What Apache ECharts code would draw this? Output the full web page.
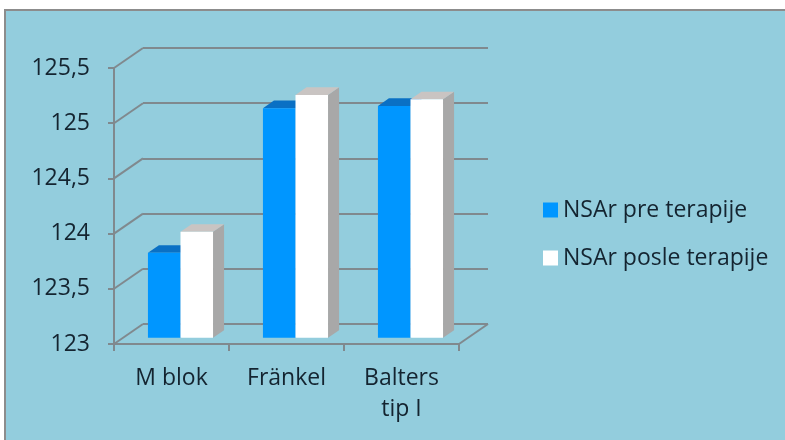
<!DOCTYPE html>
<html>
<head>
<meta charset="utf-8">
<script src="https://cdn.jsdelivr.net/npm/echarts@6/dist/echarts.min.js"></script>
<style>
html,body{margin:0;padding:0;background:#fff;}
#chart{width:785px;height:440px;}
</style>
</head>
<body>
<div id="chart"></div>
<script>
const categories = ['M blok', 'Fränkel', 'Balters\ntip I'];
const seriesNames = ['NSAr pre terapije', 'NSAr posle terapije'];
const preValues = [123.77, 125.08, 125.1];
const postValues = [123.96, 125.2, 125.16];
const yTicks = [123, 123.5, 124, 124.5, 125, 125.5];

const FONT = '"Open Sans", Lato, sans-serif';
const FS = 23;
const TEXT = '#142430';
const GRID = '#80898e';
const DEPTH = [29, -20];      // wall depth vector
const FRONT = 0.31, BARD = 0.38;

const chart = echarts.init(document.getElementById('chart'));

const faces = [
  {front: '#0096ff', top: '#0a70c4', side: '#0a70c4'},
  {front: '#ffffff', top: '#c9c4c2', side: '#a8a8a8'}
];

function barRender(sIdx) {
  return function (params, api) {
    const cat = api.value(0), val = api.value(1);
    const base = api.coord([cat, yTicks[0]]);
    const top = api.coord([cat, val]);
    const band = api.size([1, 0])[0];
    const bw = band * 0.283;
    const fx = DEPTH[0] * FRONT, fy = DEPTH[1] * FRONT;
    const dx = DEPTH[0] * BARD, dy = DEPTH[1] * BARD;
    const x0 = base[0] - bw + sIdx * bw + fx;
    const x1 = x0 + bw;
    const yb = base[1] + fy, yt = top[1] + fy;
    const c = faces[sIdx];
    return {
      type: 'group',
      children: [
        {type: 'polygon', shape: {points: [[x1, yt], [x1 + dx, yt + dy], [x1 + dx, yb + dy], [x1, yb]]}, style: {fill: c.side}},
        {type: 'polygon', shape: {points: [[x0, yt], [x1, yt], [x1 + dx, yt + dy], [x0 + dx, yt + dy]]}, style: {fill: c.top}},
        {type: 'rect', shape: {x: x0, y: yt, width: bw, height: yb - yt}, style: {fill: c.front}}
      ]
    };
  };
}

function wallRender(params, api) {
  const v = api.value(0);
  const cs = params.coordSys;
  const p = api.coord([0, v]);
  const children = [{
    type: 'line',
    shape: {x1: cs.x, y1: p[1], x2: cs.x + DEPTH[0], y2: p[1] + DEPTH[1]},
    style: {stroke: GRID, lineWidth: 2}
  }];
  if (v === yTicks[0]) {
    children.push({
      type: 'line',
      shape: {x1: cs.x + cs.width, y1: p[1], x2: cs.x + cs.width + DEPTH[0], y2: p[1] + DEPTH[1]},
      style: {stroke: GRID, lineWidth: 2}
    });
  }
  return {type: 'group', children: children};
}

const option = {
  backgroundColor: '#ffffff',
  animation: false,
  graphic: [{
    type: 'rect', z: -10, silent: true,
    shape: {x: 5, y: 10, width: 800, height: 450},
    style: {fill: '#93cddd', stroke: '#8c8c8c', lineWidth: 2}
  }],
  legend: {
    orient: 'vertical',
    left: 538, top: 192,
    itemWidth: 15, itemHeight: 15, itemGap: 22,
    icon: 'rect',
    data: seriesNames,
    textStyle: {fontFamily: FONT, fontSize: FS, color: TEXT, lineHeight: 26}
  },
  grid: [
    {left: 114, right: 326, top: 68, bottom: 96},
    {left: 143, right: 297, top: 48, bottom: 116}
  ],
  xAxis: [
    {
      type: 'category', gridIndex: 0, data: categories,
      axisLine: {lineStyle: {color: GRID, width: 2}},
      axisTick: {show: true, length: 7, lineStyle: {color: GRID, width: 2}},
      axisLabel: {interval: 0, fontFamily: FONT, fontSize: FS, color: TEXT, lineHeight: 31, margin: 19}
    },
    {
      type: 'category', gridIndex: 1, data: categories, show: false
    }
  ],
  yAxis: [
    {
      type: 'value', gridIndex: 0, min: 123, max: 125.5, interval: 0.5,
      axisLine: {show: true, lineStyle: {color: GRID, width: 2}},
      axisTick: {show: true, length: 6, lineStyle: {color: GRID, width: 2}},
      splitLine: {show: false},
      axisLabel: {
        fontFamily: FONT, fontSize: FS, color: TEXT, margin: 24,
        formatter: v => String(v).replace('.', ',')
      }
    },
    {
      type: 'value', gridIndex: 1, min: 123, max: 125.5, interval: 0.5,
      axisLine: {show: false}, axisTick: {show: false}, axisLabel: {show: false},
      splitLine: {show: true, lineStyle: {color: GRID, width: 2}}
    }
  ],
  series: [
    {
      type: 'custom', name: 'walls', xAxisIndex: 0, yAxisIndex: 0,
      renderItem: wallRender, data: yTicks.map(v => [v]), z: 1, silent: true,
      encode: {x: -1, y: 0}
    },
    {
      type: 'custom', name: seriesNames[0], xAxisIndex: 0, yAxisIndex: 0,
      renderItem: barRender(0), itemStyle: {color: '#0096ff'},
      data: preValues.map((v, i) => [i, v]), encode: {x: 0, y: 1}, z: 3
    },
    {
      type: 'custom', name: seriesNames[1], xAxisIndex: 0, yAxisIndex: 0,
      renderItem: barRender(1), itemStyle: {color: '#ffffff'},
      data: postValues.map((v, i) => [i, v]), encode: {x: 0, y: 1}, z: 4
    }
  ]
};
chart.setOption(option);
</script>
</body>
</html>
